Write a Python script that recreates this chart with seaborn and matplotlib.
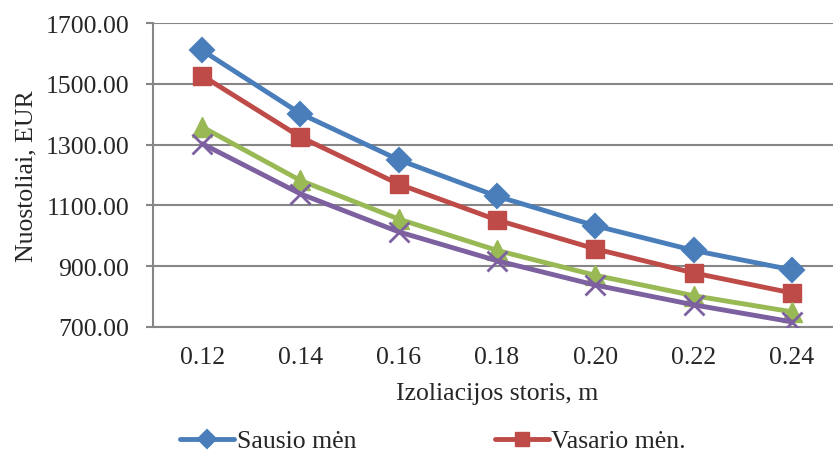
import pandas as pd
import matplotlib
matplotlib.use('Agg')
import matplotlib.pyplot as plt
import seaborn as sns

thickness = ['0.12', '0.14', '0.16', '0.18', '0.20', '0.22', '0.24']
sausio = [1610, 1402, 1250, 1130, 1033, 952, 888]
vasario = [1527, 1325, 1170, 1052, 957, 878, 812]
series3 = [1358, 1182, 1055, 952, 870, 803, 750]
series4 = [1303, 1138, 1013, 918, 838, 773, 717]

colors = ['#4a7ebb', '#be4b48', '#98b954', '#7d60a0']
fs = 18.5

sns.set_style('white')
plt.rcParams['font.family'] = ['Liberation Serif', 'DejaVu Serif']

fig = plt.figure(figsize=(8.33, 4.52), dpi=100)
ax = fig.add_axes([153 / 833, 1 - 328 / 452, (841 - 153) / 833, (328 - 24) / 452])

pos = list(range(len(thickness)))
lines = [
    (sausio, 'Sausio mėn', 'D', 12, 1.5),
    (vasario, 'Vasario mėn.', 's', 13, 1.0),
    (series3, '_s3', '^', 14, 1.0),
    (series4, '_s4', 'x', 14, 2.0),
]
for (vals, lab, mk, ms, mew), c in zip(lines, colors):
    df = pd.DataFrame({'x': pos, 'y': vals})
    sns.lineplot(data=df, x='x', y='y', ax=ax, color=c, linewidth=3.5,
                 marker=mk, markersize=ms, markeredgecolor=c,
                 markeredgewidth=mew, label=lab, zorder=3)

ax.set_ylim(700, 1700)
ax.set_yticks(range(700, 1701, 200))
ax.set_yticklabels([f'{v:.2f}' for v in range(700, 1701, 200)], fontsize=fs)
ax.set_xlim(-0.5, 6.5)
ax.set_xticks(pos)
ax.set_xticklabels(thickness, fontsize=fs)
ax.set_xticks([p + 0.5 for p in [-1] + pos], minor=True)
ax.tick_params(axis='x', which='major', length=0, pad=14)
ax.tick_params(axis='x', which='minor', length=5, color='#868686', width=1.5)
ax.tick_params(axis='y', length=5, color='#868686', width=1.5, left=True, pad=12)
ax.grid(axis='y', color='#868686', linewidth=1.5)
ax.set_axisbelow(True)
for s in ['top', 'right']:
    ax.spines[s].set_visible(False)
for s in ['left', 'bottom']:
    ax.spines[s].set_color('#868686')
    ax.spines[s].set_linewidth(1.5)

ax.set_xlabel('Izoliacijos storis, m', fontsize=fs, labelpad=10)
ax.set_ylabel('Nuostoliai, EUR', fontsize=fs, labelpad=6)

h, l = ax.get_legend_handles_labels()
ax.legend(h[:2], l[:2], loc='center', bbox_to_anchor=(433 / 833, 1 - 442 / 452),
          bbox_transform=fig.transFigure, ncol=2, frameon=False, fontsize=fs,
          columnspacing=5.4, handlelength=2.1, handletextpad=0.1,
          markerscale=0.75)

fig.savefig('out.png', dpi=100, facecolor='white')
